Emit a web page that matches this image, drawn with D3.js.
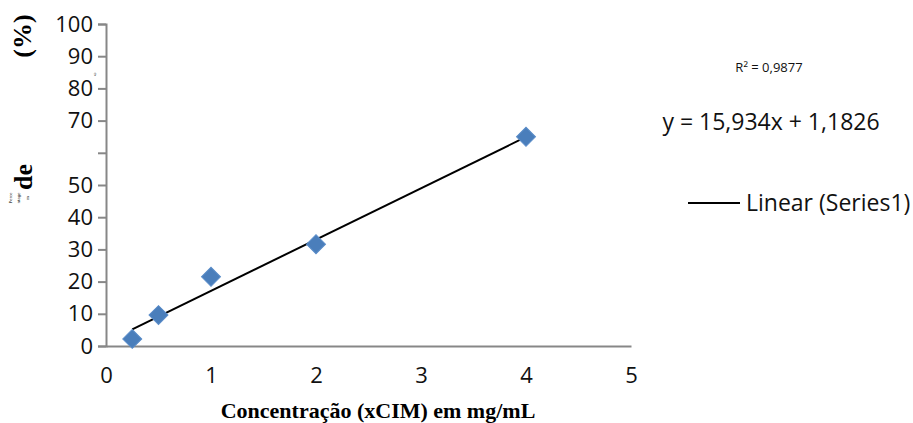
<!DOCTYPE html>
<html>
<head>
<meta charset="utf-8">
<script src="https://cdn.jsdelivr.net/npm/d3@7"></script>
<style>
  body { margin: 0; background: #fff; }
  #chart { width: 913px; height: 423px; }
</style>
</head>
<body>
<div id="chart"></div>
<script>
// data
let concentrations = [0.25, 0.5, 1, 2, 4];
let percentages = [2.2, 9.6, 21.5, 31.6, 65.0];
let xTicks = [0, 1, 2, 3, 4, 5];
let yTicks = [0, 10, 20, 30, 40, 50, 60, 70, 80, 90, 100];
let yTickLabels = ["0", "10", "20", "30", "40", "50", "", "70", "80", "90", "100"];
let trendSlope = 15.934;
let trendIntercept = 1.1826;
let rSquared = "R² = 0,9877";
let equationLabel = "y = 15,934x + 1,1826";
let legendLabel = "Linear (Series1)";

let width = 913, height = 423;
let margin = {top: 24, right: 282, left: 106, bottom: 77};

let svg = d3.select("#chart").append("svg")
    .attr("width", width).attr("height", height);

let xScale = d3.scaleLinear().domain([0, 5]).range([margin.left, width - margin.right]);
let yScale = d3.scaleLinear().domain([0, 100]).range([height - margin.bottom, margin.top]);

let axisColor = "#878787";
let tickFont = "'Open Sans', sans-serif";
let serif = "'Liberation Serif', 'Times New Roman', serif";

// y axis
let yAxis = d3.axisLeft(yScale).tickValues(yTicks)
    .tickFormat((d, i) => yTickLabels[i]).tickSize(8).tickPadding(5);
let yG = svg.append("g").attr("transform", "translate(" + margin.left + ",0)").call(yAxis);
yG.select(".domain").attr("stroke", axisColor).attr("stroke-width", 2);
yG.selectAll(".tick line").attr("stroke", axisColor).attr("stroke-width", 2);
yG.selectAll(".tick text").attr("font-family", tickFont).attr("font-size", 22).attr("fill", "#111");

// x axis (no tick marks)
let xAxis = d3.axisBottom(xScale).tickValues(xTicks).tickFormat(d3.format("d"))
    .tickSize(0).tickPadding(21);
let xG = svg.append("g").attr("transform", "translate(0," + yScale(0) + ")").call(xAxis);
xG.select(".domain").attr("stroke", axisColor).attr("stroke-width", 2);
xG.selectAll(".tick text").attr("font-family", tickFont).attr("font-size", 22).attr("fill", "#111");

// trendline
let trendX = d3.extent(concentrations);
svg.append("line")
    .attr("x1", xScale(trendX[0])).attr("y1", yScale(trendSlope * trendX[0] + trendIntercept))
    .attr("x2", xScale(trendX[1])).attr("y2", yScale(trendSlope * trendX[1] + trendIntercept))
    .attr("stroke", "#000").attr("stroke-width", 2);

// markers
let diamond = d3.symbol().type(d3.symbolSquare).size(180);
svg.selectAll(".pt").data(concentrations).enter().append("path")
    .attr("class", "pt")
    .attr("d", diamond)
    .attr("transform", (d, i) => "translate(" + xScale(d) + "," + yScale(percentages[i]) + ") rotate(45)")
    .attr("fill", "#4a7ebb").attr("stroke", "#5b8dc9").attr("stroke-width", 1);

// x title
svg.append("text").attr("x", 378).attr("y", 418)
    .attr("text-anchor", "middle")
    .attr("font-family", serif)
    .attr("font-weight", "bold").attr("font-size", 22)
    .text("Concentração (xCIM) em mg/mL");

// y title (garbled in the original)
svg.append("text").attr("transform", "translate(31,36) rotate(-90)")
    .attr("text-anchor", "middle").attr("font-family", serif)
    .attr("font-weight", "bold").attr("font-size", 26).text("(%)");
svg.append("text").attr("transform", "translate(32,177) rotate(-90)")
    .attr("text-anchor", "middle").attr("font-family", serif)
    .attr("font-weight", "bold").attr("font-size", 26).text("de");
let tiny = [["Perce", 12, 198], ["ntage", 20, 198], ["m", 29, 198]];
svg.selectAll(".tiny").data(tiny).enter().append("text")
    .attr("class", "tiny")
    .attr("transform", d => "translate(" + d[1] + "," + d[2] + ") rotate(-90)")
    .attr("text-anchor", "middle").attr("font-family", serif)
    .attr("font-size", 5).text(d => d[0]);
svg.append("text").attr("transform", "translate(96,74) rotate(-90)")
    .attr("text-anchor", "middle").attr("font-family", serif)
    .attr("font-size", 5).text("ω");

// trendline labels
svg.append("text").attr("x", 769).attr("y", 72)
    .attr("text-anchor", "middle").attr("font-family", tickFont)
    .attr("font-size", 13).attr("fill", "#111").text(rSquared);
svg.append("text").attr("x", 771).attr("y", 130)
    .attr("text-anchor", "middle").attr("font-family", tickFont)
    .attr("font-size", 23).attr("fill", "#111").text(equationLabel);

// legend
svg.append("line").attr("x1", 688).attr("x2", 740).attr("y1", 203).attr("y2", 203)
    .attr("stroke", "#000").attr("stroke-width", 2);
svg.append("text").attr("x", 746).attr("y", 211)
    .attr("font-family", tickFont).attr("font-size", 23).attr("fill", "#111")
    .text(legendLabel);
</script>
</body>
</html>
